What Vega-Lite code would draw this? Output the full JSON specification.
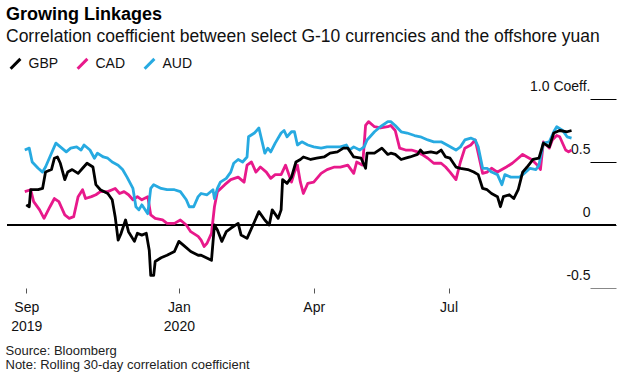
{
  "$schema": "https://vega.github.io/schema/vega-lite/v6.json",
  "width": 609,
  "height": 189,
  "autosize": "none",
  "padding": {"left": 7, "top": 99, "right": 15, "bottom": 88},
  "background": "white",
  "config": {"view": {"stroke": null}, "font": "Liberation Sans"},
  "title": {
    "text": "Growing Linkages",
    "subtitle": "Correlation coefficient between select G-10 currencies and the offshore yuan",
    "anchor": "start",
    "frame": "group",
    "font": "Liberation Sans",
    "fontSize": 18,
    "fontWeight": "bold",
    "color": "#000000",
    "subtitleFont": "Liberation Sans",
    "subtitleFontSize": 17.5,
    "subtitleColor": "#111111",
    "subtitlePadding": 4,
    "offset": 10,
    "dx": -1
  },
  "data": {"values": [
    {"d":"2019-09-19","s":"CAD","v":0.265},{"d":"2019-09-23","s":"CAD","v":0.28},{"d":"2019-09-25","s":"CAD","v":0.185},{"d":"2019-09-29","s":"CAD","v":0.12},{"d":"2019-10-02","s":"CAD","v":0.053},{"d":"2019-10-06","s":"CAD","v":0.145},{"d":"2019-10-09","s":"CAD","v":0.21},{"d":"2019-10-12","s":"CAD","v":0.185},{"d":"2019-10-16","s":"CAD","v":0.08},{"d":"2019-10-19","s":"CAD","v":0.053},{"d":"2019-10-22","s":"CAD","v":0.066},{"d":"2019-10-25","s":"CAD","v":0.225},{"d":"2019-10-28","s":"CAD","v":0.28},{"d":"2019-10-30","s":"CAD","v":0.21},{"d":"2019-11-03","s":"CAD","v":0.225},{"d":"2019-11-06","s":"CAD","v":0.24},{"d":"2019-11-09","s":"CAD","v":0.265},{"d":"2019-11-14","s":"CAD","v":0.265},{"d":"2019-11-17","s":"CAD","v":0.28},{"d":"2019-11-19","s":"CAD","v":0.29},{"d":"2019-11-22","s":"CAD","v":0.25},{"d":"2019-11-25","s":"CAD","v":0.265},{"d":"2019-11-28","s":"CAD","v":0.24},{"d":"2019-12-01","s":"CAD","v":0.2},{"d":"2019-12-04","s":"CAD","v":0.225},{"d":"2019-12-07","s":"CAD","v":0.2},{"d":"2019-12-11","s":"CAD","v":0.225},{"d":"2019-12-13","s":"CAD","v":0.08},{"d":"2019-12-16","s":"CAD","v":0.053},{"d":"2019-12-21","s":"CAD","v":0.04},{"d":"2019-12-24","s":"CAD","v":0.013},{"d":"2019-12-29","s":"CAD","v":0.013},{"d":"2020-01-02","s":"CAD","v":0.04},{"d":"2020-01-06","s":"CAD","v":0.0},{"d":"2020-01-09","s":"CAD","v":-0.053},{"d":"2020-01-14","s":"CAD","v":-0.09},{"d":"2020-01-16","s":"CAD","v":-0.12},{"d":"2020-01-18","s":"CAD","v":-0.17},{"d":"2020-01-20","s":"CAD","v":-0.145},{"d":"2020-01-23","s":"CAD","v":-0.066},{"d":"2020-01-25","s":"CAD","v":0.145},{"d":"2020-01-27","s":"CAD","v":0.265},{"d":"2020-02-01","s":"CAD","v":0.32},{"d":"2020-02-05","s":"CAD","v":0.36},{"d":"2020-02-10","s":"CAD","v":0.38},{"d":"2020-02-14","s":"CAD","v":0.34},{"d":"2020-02-16","s":"CAD","v":0.475},{"d":"2020-02-19","s":"CAD","v":0.5},{"d":"2020-02-22","s":"CAD","v":0.42},{"d":"2020-02-25","s":"CAD","v":0.46},{"d":"2020-02-29","s":"CAD","v":0.42},{"d":"2020-03-03","s":"CAD","v":0.37},{"d":"2020-03-06","s":"CAD","v":0.4},{"d":"2020-03-10","s":"CAD","v":0.4},{"d":"2020-03-13","s":"CAD","v":0.475},{"d":"2020-03-17","s":"CAD","v":0.34},{"d":"2020-03-19","s":"CAD","v":0.42},{"d":"2020-03-21","s":"CAD","v":0.475},{"d":"2020-03-23","s":"CAD","v":0.34},{"d":"2020-03-25","s":"CAD","v":0.25},{"d":"2020-03-28","s":"CAD","v":0.33},{"d":"2020-04-01","s":"CAD","v":0.34},{"d":"2020-04-06","s":"CAD","v":0.41},{"d":"2020-04-10","s":"CAD","v":0.44},{"d":"2020-04-15","s":"CAD","v":0.46},{"d":"2020-04-19","s":"CAD","v":0.46},{"d":"2020-04-24","s":"CAD","v":0.475},{"d":"2020-04-28","s":"CAD","v":0.41},{"d":"2020-04-30","s":"CAD","v":0.5},{"d":"2020-05-04","s":"CAD","v":0.475},{"d":"2020-05-06","s":"CAD","v":0.79},{"d":"2020-05-08","s":"CAD","v":0.82},{"d":"2020-05-12","s":"CAD","v":0.78},{"d":"2020-05-16","s":"CAD","v":0.77},{"d":"2020-05-21","s":"CAD","v":0.78},{"d":"2020-05-23","s":"CAD","v":0.79},{"d":"2020-05-26","s":"CAD","v":0.75},{"d":"2020-05-29","s":"CAD","v":0.61},{"d":"2020-06-02","s":"CAD","v":0.595},{"d":"2020-06-06","s":"CAD","v":0.595},{"d":"2020-06-10","s":"CAD","v":0.58},{"d":"2020-06-13","s":"CAD","v":0.56},{"d":"2020-06-17","s":"CAD","v":0.53},{"d":"2020-06-21","s":"CAD","v":0.49},{"d":"2020-06-26","s":"CAD","v":0.49},{"d":"2020-06-29","s":"CAD","v":0.46},{"d":"2020-07-02","s":"CAD","v":0.42},{"d":"2020-07-06","s":"CAD","v":0.36},{"d":"2020-07-09","s":"CAD","v":0.5},{"d":"2020-07-12","s":"CAD","v":0.61},{"d":"2020-07-16","s":"CAD","v":0.635},{"d":"2020-07-19","s":"CAD","v":0.675},{"d":"2020-07-21","s":"CAD","v":0.57},{"d":"2020-07-24","s":"CAD","v":0.41},{"d":"2020-07-27","s":"CAD","v":0.42},{"d":"2020-07-30","s":"CAD","v":0.45},{"d":"2020-08-03","s":"CAD","v":0.42},{"d":"2020-08-06","s":"CAD","v":0.44},{"d":"2020-08-09","s":"CAD","v":0.46},{"d":"2020-08-13","s":"CAD","v":0.49},{"d":"2020-08-16","s":"CAD","v":0.52},{"d":"2020-08-20","s":"CAD","v":0.56},{"d":"2020-08-23","s":"CAD","v":0.54},{"d":"2020-08-26","s":"CAD","v":0.52},{"d":"2020-08-30","s":"CAD","v":0.475},{"d":"2020-09-01","s":"CAD","v":0.44},{"d":"2020-09-03","s":"CAD","v":0.66},{"d":"2020-09-07","s":"CAD","v":0.61},{"d":"2020-09-09","s":"CAD","v":0.675},{"d":"2020-09-12","s":"CAD","v":0.71},{"d":"2020-09-14","s":"CAD","v":0.7},{"d":"2020-09-18","s":"CAD","v":0.595},{"d":"2020-09-20","s":"CAD","v":0.58},{"d":"2020-09-22","s":"CAD","v":0.595},
    {"d":"2019-09-19","s":"AUD","v":0.595},{"d":"2019-09-22","s":"AUD","v":0.61},{"d":"2019-09-24","s":"AUD","v":0.5},{"d":"2019-09-28","s":"AUD","v":0.45},{"d":"2019-10-01","s":"AUD","v":0.42},{"d":"2019-10-03","s":"AUD","v":0.46},{"d":"2019-10-07","s":"AUD","v":0.57},{"d":"2019-10-10","s":"AUD","v":0.65},{"d":"2019-10-13","s":"AUD","v":0.62},{"d":"2019-10-17","s":"AUD","v":0.58},{"d":"2019-10-20","s":"AUD","v":0.61},{"d":"2019-10-24","s":"AUD","v":0.62},{"d":"2019-10-27","s":"AUD","v":0.595},{"d":"2019-10-29","s":"AUD","v":0.635},{"d":"2019-11-02","s":"AUD","v":0.595},{"d":"2019-11-05","s":"AUD","v":0.53},{"d":"2019-11-07","s":"AUD","v":0.57},{"d":"2019-11-11","s":"AUD","v":0.54},{"d":"2019-11-14","s":"AUD","v":0.53},{"d":"2019-11-17","s":"AUD","v":0.5},{"d":"2019-11-21","s":"AUD","v":0.475},{"d":"2019-11-24","s":"AUD","v":0.44},{"d":"2019-11-27","s":"AUD","v":0.38},{"d":"2019-12-01","s":"AUD","v":0.29},{"d":"2019-12-03","s":"AUD","v":0.145},{"d":"2019-12-05","s":"AUD","v":0.12},{"d":"2019-12-07","s":"AUD","v":0.16},{"d":"2019-12-11","s":"AUD","v":0.09},{"d":"2019-12-13","s":"AUD","v":0.29},{"d":"2019-12-15","s":"AUD","v":0.32},{"d":"2019-12-20","s":"AUD","v":0.29},{"d":"2019-12-24","s":"AUD","v":0.28},{"d":"2019-12-29","s":"AUD","v":0.28},{"d":"2020-01-02","s":"AUD","v":0.265},{"d":"2020-01-06","s":"AUD","v":0.2},{"d":"2020-01-08","s":"AUD","v":0.145},{"d":"2020-01-11","s":"AUD","v":0.145},{"d":"2020-01-14","s":"AUD","v":0.225},{"d":"2020-01-16","s":"AUD","v":0.25},{"d":"2020-01-20","s":"AUD","v":0.24},{"d":"2020-01-24","s":"AUD","v":0.28},{"d":"2020-01-25","s":"AUD","v":0.21},{"d":"2020-01-27","s":"AUD","v":0.29},{"d":"2020-01-29","s":"AUD","v":0.34},{"d":"2020-02-02","s":"AUD","v":0.37},{"d":"2020-02-05","s":"AUD","v":0.42},{"d":"2020-02-07","s":"AUD","v":0.49},{"d":"2020-02-10","s":"AUD","v":0.52},{"d":"2020-02-13","s":"AUD","v":0.5},{"d":"2020-02-16","s":"AUD","v":0.54},{"d":"2020-02-17","s":"AUD","v":0.7},{"d":"2020-02-21","s":"AUD","v":0.73},{"d":"2020-02-24","s":"AUD","v":0.77},{"d":"2020-02-26","s":"AUD","v":0.67},{"d":"2020-02-28","s":"AUD","v":0.57},{"d":"2020-03-01","s":"AUD","v":0.61},{"d":"2020-03-03","s":"AUD","v":0.58},{"d":"2020-03-06","s":"AUD","v":0.65},{"d":"2020-03-10","s":"AUD","v":0.73},{"d":"2020-03-12","s":"AUD","v":0.75},{"d":"2020-03-14","s":"AUD","v":0.7},{"d":"2020-03-17","s":"AUD","v":0.74},{"d":"2020-03-19","s":"AUD","v":0.74},{"d":"2020-03-21","s":"AUD","v":0.635},{"d":"2020-03-24","s":"AUD","v":0.66},{"d":"2020-03-28","s":"AUD","v":0.635},{"d":"2020-04-01","s":"AUD","v":0.62},{"d":"2020-04-06","s":"AUD","v":0.61},{"d":"2020-04-10","s":"AUD","v":0.62},{"d":"2020-04-15","s":"AUD","v":0.62},{"d":"2020-04-19","s":"AUD","v":0.62},{"d":"2020-04-23","s":"AUD","v":0.635},{"d":"2020-04-25","s":"AUD","v":0.595},{"d":"2020-04-28","s":"AUD","v":0.62},{"d":"2020-05-02","s":"AUD","v":0.595},{"d":"2020-05-05","s":"AUD","v":0.62},{"d":"2020-05-07","s":"AUD","v":0.675},{"d":"2020-05-12","s":"AUD","v":0.74},{"d":"2020-05-16","s":"AUD","v":0.78},{"d":"2020-05-21","s":"AUD","v":0.82},{"d":"2020-05-23","s":"AUD","v":0.82},{"d":"2020-05-26","s":"AUD","v":0.79},{"d":"2020-05-30","s":"AUD","v":0.74},{"d":"2020-06-03","s":"AUD","v":0.73},{"d":"2020-06-08","s":"AUD","v":0.71},{"d":"2020-06-12","s":"AUD","v":0.7},{"d":"2020-06-17","s":"AUD","v":0.675},{"d":"2020-06-21","s":"AUD","v":0.66},{"d":"2020-06-26","s":"AUD","v":0.66},{"d":"2020-06-30","s":"AUD","v":0.635},{"d":"2020-07-06","s":"AUD","v":0.595},{"d":"2020-07-09","s":"AUD","v":0.62},{"d":"2020-07-12","s":"AUD","v":0.675},{"d":"2020-07-16","s":"AUD","v":0.69},{"d":"2020-07-19","s":"AUD","v":0.675},{"d":"2020-07-21","s":"AUD","v":0.62},{"d":"2020-07-24","s":"AUD","v":0.45},{"d":"2020-07-27","s":"AUD","v":0.45},{"d":"2020-07-30","s":"AUD","v":0.42},{"d":"2020-08-03","s":"AUD","v":0.4},{"d":"2020-08-06","s":"AUD","v":0.32},{"d":"2020-08-08","s":"AUD","v":0.4},{"d":"2020-08-12","s":"AUD","v":0.38},{"d":"2020-08-15","s":"AUD","v":0.38},{"d":"2020-08-18","s":"AUD","v":0.38},{"d":"2020-08-22","s":"AUD","v":0.42},{"d":"2020-08-25","s":"AUD","v":0.45},{"d":"2020-08-29","s":"AUD","v":0.44},{"d":"2020-08-31","s":"AUD","v":0.475},{"d":"2020-09-03","s":"AUD","v":0.65},{"d":"2020-09-07","s":"AUD","v":0.66},{"d":"2020-09-10","s":"AUD","v":0.74},{"d":"2020-09-12","s":"AUD","v":0.78},{"d":"2020-09-16","s":"AUD","v":0.75},{"d":"2020-09-19","s":"AUD","v":0.7},{"d":"2020-09-22","s":"AUD","v":0.69},
    {"d":"2019-09-20","s":"GBP","v":0.16},{"d":"2019-09-22","s":"GBP","v":0.145},{"d":"2019-09-23","s":"GBP","v":0.28},{"d":"2019-09-28","s":"GBP","v":0.28},{"d":"2019-10-01","s":"GBP","v":0.29},{"d":"2019-10-03","s":"GBP","v":0.42},{"d":"2019-10-07","s":"GBP","v":0.44},{"d":"2019-10-09","s":"GBP","v":0.53},{"d":"2019-10-11","s":"GBP","v":0.54},{"d":"2019-10-13","s":"GBP","v":0.49},{"d":"2019-10-16","s":"GBP","v":0.36},{"d":"2019-10-18","s":"GBP","v":0.42},{"d":"2019-10-21","s":"GBP","v":0.44},{"d":"2019-10-25","s":"GBP","v":0.41},{"d":"2019-10-28","s":"GBP","v":0.45},{"d":"2019-10-31","s":"GBP","v":0.49},{"d":"2019-11-04","s":"GBP","v":0.46},{"d":"2019-11-06","s":"GBP","v":0.32},{"d":"2019-11-09","s":"GBP","v":0.28},{"d":"2019-11-14","s":"GBP","v":0.25},{"d":"2019-11-17","s":"GBP","v":0.2},{"d":"2019-11-19","s":"GBP","v":0.066},{"d":"2019-11-21","s":"GBP","v":-0.12},{"d":"2019-11-23","s":"GBP","v":-0.066},{"d":"2019-11-26","s":"GBP","v":0.04},{"d":"2019-11-28","s":"GBP","v":-0.053},{"d":"2019-12-02","s":"GBP","v":-0.13},{"d":"2019-12-04","s":"GBP","v":-0.066},{"d":"2019-12-07","s":"GBP","v":-0.08},{"d":"2019-12-10","s":"GBP","v":-0.066},{"d":"2019-12-12","s":"GBP","v":-0.2},{"d":"2019-12-13","s":"GBP","v":-0.4},{"d":"2019-12-15","s":"GBP","v":-0.4},{"d":"2019-12-16","s":"GBP","v":-0.29},{"d":"2019-12-20","s":"GBP","v":-0.26},{"d":"2019-12-24","s":"GBP","v":-0.24},{"d":"2019-12-29","s":"GBP","v":-0.21},{"d":"2020-01-01","s":"GBP","v":-0.13},{"d":"2020-01-05","s":"GBP","v":-0.17},{"d":"2020-01-09","s":"GBP","v":-0.21},{"d":"2020-01-14","s":"GBP","v":-0.24},{"d":"2020-01-16","s":"GBP","v":-0.24},{"d":"2020-01-23","s":"GBP","v":-0.28},{"d":"2020-01-25","s":"GBP","v":0.0},{"d":"2020-01-27","s":"GBP","v":-0.04},{"d":"2020-01-30","s":"GBP","v":-0.13},{"d":"2020-02-02","s":"GBP","v":-0.053},{"d":"2020-02-05","s":"GBP","v":-0.026},{"d":"2020-02-10","s":"GBP","v":0.013},{"d":"2020-02-12","s":"GBP","v":-0.08},{"d":"2020-02-16","s":"GBP","v":-0.106},{"d":"2020-02-21","s":"GBP","v":0.026},{"d":"2020-02-24","s":"GBP","v":0.106},{"d":"2020-02-28","s":"GBP","v":0.04},{"d":"2020-03-02","s":"GBP","v":0.0},{"d":"2020-03-04","s":"GBP","v":0.12},{"d":"2020-03-08","s":"GBP","v":0.053},{"d":"2020-03-10","s":"GBP","v":0.12},{"d":"2020-03-11","s":"GBP","v":0.36},{"d":"2020-03-14","s":"GBP","v":0.33},{"d":"2020-03-17","s":"GBP","v":0.38},{"d":"2020-03-20","s":"GBP","v":0.5},{"d":"2020-03-23","s":"GBP","v":0.52},{"d":"2020-03-25","s":"GBP","v":0.54},{"d":"2020-03-30","s":"GBP","v":0.52},{"d":"2020-04-03","s":"GBP","v":0.53},{"d":"2020-04-08","s":"GBP","v":0.54},{"d":"2020-04-12","s":"GBP","v":0.57},{"d":"2020-04-17","s":"GBP","v":0.58},{"d":"2020-04-21","s":"GBP","v":0.61},{"d":"2020-04-24","s":"GBP","v":0.61},{"d":"2020-04-28","s":"GBP","v":0.54},{"d":"2020-05-03","s":"GBP","v":0.53},{"d":"2020-05-06","s":"GBP","v":0.45},{"d":"2020-05-07","s":"GBP","v":0.57},{"d":"2020-05-12","s":"GBP","v":0.57},{"d":"2020-05-17","s":"GBP","v":0.61},{"d":"2020-05-21","s":"GBP","v":0.56},{"d":"2020-05-23","s":"GBP","v":0.57},{"d":"2020-05-26","s":"GBP","v":0.56},{"d":"2020-05-30","s":"GBP","v":0.52},{"d":"2020-06-02","s":"GBP","v":0.53},{"d":"2020-06-05","s":"GBP","v":0.54},{"d":"2020-06-10","s":"GBP","v":0.56},{"d":"2020-06-12","s":"GBP","v":0.595},{"d":"2020-06-14","s":"GBP","v":0.57},{"d":"2020-06-19","s":"GBP","v":0.58},{"d":"2020-06-23","s":"GBP","v":0.57},{"d":"2020-06-26","s":"GBP","v":0.595},{"d":"2020-06-29","s":"GBP","v":0.54},{"d":"2020-07-02","s":"GBP","v":0.53},{"d":"2020-07-06","s":"GBP","v":0.46},{"d":"2020-07-09","s":"GBP","v":0.45},{"d":"2020-07-14","s":"GBP","v":0.44},{"d":"2020-07-18","s":"GBP","v":0.42},{"d":"2020-07-21","s":"GBP","v":0.4},{"d":"2020-07-24","s":"GBP","v":0.29},{"d":"2020-07-27","s":"GBP","v":0.28},{"d":"2020-07-30","s":"GBP","v":0.25},{"d":"2020-08-03","s":"GBP","v":0.225},{"d":"2020-08-05","s":"GBP","v":0.145},{"d":"2020-08-07","s":"GBP","v":0.225},{"d":"2020-08-11","s":"GBP","v":0.24},{"d":"2020-08-14","s":"GBP","v":0.21},{"d":"2020-08-17","s":"GBP","v":0.28},{"d":"2020-08-20","s":"GBP","v":0.42},{"d":"2020-08-23","s":"GBP","v":0.46},{"d":"2020-08-27","s":"GBP","v":0.52},{"d":"2020-08-31","s":"GBP","v":0.53},{"d":"2020-09-03","s":"GBP","v":0.65},{"d":"2020-09-07","s":"GBP","v":0.62},{"d":"2020-09-10","s":"GBP","v":0.73},{"d":"2020-09-14","s":"GBP","v":0.75},{"d":"2020-09-19","s":"GBP","v":0.74},{"d":"2020-09-22","s":"GBP","v":0.75}
  ]},
  "layer": [
    {
      "mark": {"type": "rule", "color": "#000000", "strokeWidth": 1},
      "encoding": {"y": {"datum": 0, "type": "quantitative", "title": null}}
    },
    {
      "mark": {"type": "line", "strokeWidth": 2.8, "strokeJoin": "round"},
      "encoding": {
        "x": {
          "field": "d", "type": "temporal", "title": ["Source: Bloomberg", "Note: Rolling 30-day correlation coefficient"],
          "scale": {"type": "utc", "domain": [{"year": 2019, "month": 9, "date": 7, "utc": true}, {"year": 2020, "month": 10, "date": 22, "utc": true}]},
          "axis": {
            "values": [{"year": 2019, "month": 9, "date": 20, "utc": true}, {"year": 2020, "month": 1, "date": 1, "utc": true}, {"year": 2020, "month": 4, "date": 1, "utc": true}, {"year": 2020, "month": 7, "date": 1, "utc": true}],
            "labelExpr": "utcmonth(datum.value) == 8 ? ['Sep', '2019'] : utcmonth(datum.value) == 0 ? ['Jan', '2020'] : utcmonth(datum.value) == 3 ? 'Apr' : 'Jul'",
            "domain": false, "grid": false, "tickSize": 5, "tickColor": "#555555", "tickWidth": 1,
            "labelFont": "Liberation Sans", "labelFontSize": 14, "labelColor": "#111111", "labelLineHeight": 19,
            "labelPadding": 7, "labelBaseline": "top", "labelFlush": false, "labelOverlap": false, "labelBound": false,
            "titleFont": "Liberation Sans", "titleFontSize": 13, "titleFontWeight": "normal", "titleColor": "#222222",
            "titleAnchor": "start", "titleAlign": "left", "titleBaseline": "alphabetic", "titleLineHeight": 14.5,
            "titleX": -2, "titleY": 66
          }
        },
        "y": {
          "field": "v", "type": "quantitative", "title": null,
          "scale": {"domain": [-0.5, 1.0], "nice": false, "zero": false},
          "axis": {
            "orient": "right", "values": [-0.5, 0, 0.5, 1],
            "labelExpr": "datum.value == 1 ? '1.0 Coeff.' : datum.value == 0.5 ? '0.5' : datum.value == -0.5 ? '-0.5' : '0'",
            "domain": false, "grid": false, "tickSize": -26, "tickWidth": 1,
            "tickColor": {"condition": {"test": "datum.value == -0.5", "value": "#888888"}, "value": "#000000"},
            "labelFont": "Liberation Sans", "labelFontSize": 14, "labelColor": "#111111",
            "labelAlign": "right", "labelBaseline": "alphabetic", "labelPadding": 0, "labelOffset": -9,
            "labelFlush": false, "labelOverlap": false, "labelBound": false
          }
        },
        "color": {
          "field": "s", "type": "nominal",
          "scale": {"domain": ["GBP", "CAD", "AUD"], "range": ["#000000", "#e8198b", "#27aae1"]},
          "legend": {
            "title": null, "orient": "none", "direction": "horizontal", "legendX": 0, "legendY": -44,
            "symbolType": "M-0.7,0.7L0.7,-0.7", "symbolSize": 196, "symbolStrokeWidth": 3,
            "labelFont": "Liberation Sans", "labelFontSize": 14, "labelColor": "#111111",
            "labelOffset": 4.5, "columnPadding": 12, "padding": 0
          }
        }
      }
    }
  ]
}
